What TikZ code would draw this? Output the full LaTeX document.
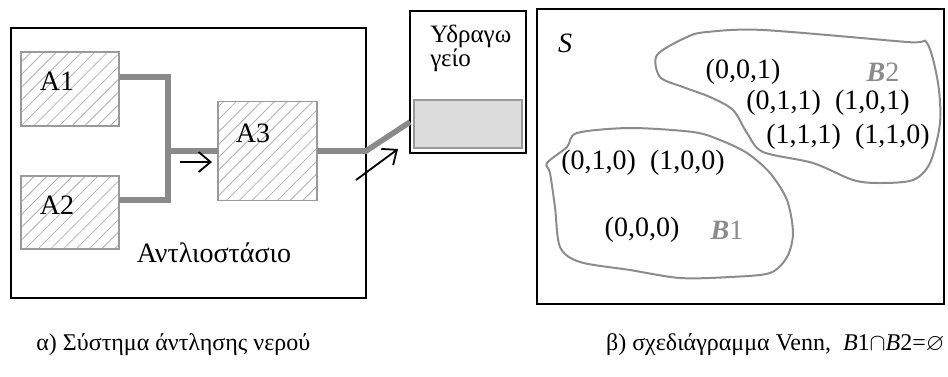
\documentclass[tikz,border=0pt]{standalone}
\usepackage{amssymb}
\usepackage{fontspec}
\setmainfont{Liberation Serif}
\usetikzlibrary{patterns.meta,arrows.meta}
\definecolor{PipeGray}{HTML}{8A8A8A}
\definecolor{HatchGray}{HTML}{B0B0B0}
\definecolor{EdgeGray}{HTML}{9A9A9A}
\definecolor{TankFill}{HTML}{DCDCDC}
\definecolor{SetGray}{HTML}{8C8C8C}

\begin{document}
\begin{tikzpicture}[
	x=0.5pt, y=-0.5pt,
	font=\fontsize{14}{16}\selectfont,
	% hatched tank / pump box
	pump box/.style={
		draw=EdgeGray,
		line width=0.7pt,
		pattern={Lines[angle=45,distance=4.5pt,line width=0.4pt]},
		pattern color=HatchGray,
		minimum width=49pt,
		inner sep=0pt, outer sep=0pt
	},
	% plain black frame
	frame/.style={
		draw=black,
		line width=0.9pt,
		inner sep=0pt, outer sep=0pt
	},
	% thick grey water pipe
	pipe/.style={
		draw=PipeGray,
		line width=2.8pt
	},
	% thin flow arrow
	flow/.style={
		draw=black,
		line width=0.9pt,
		-{Straight Barb[length=6pt,width=10pt]}
	},
	% set outline
	set line/.style={
		draw=SetGray,
		line width=1pt
	},
	lbl/.style={inner sep=0pt},
	caption/.style={inner sep=0pt, font=\fontsize{12}{14}\selectfont},
	set name/.style={inner sep=0pt, text=SetGray}
	]
	\useasboundingbox (0,0) rectangle (948,376);
	
	% ================= PUMP STATION =================
	\node[frame, minimum width=177.5pt, minimum height=135pt] (station) at (188.5,163) {};
	
	\coordinate (j1) at (168,77);
	\coordinate (j2) at (168,200);
	\coordinate (inlet) at (410,122);
	
	\node[pump box, minimum height=37pt] (a1) at (70,89) {};
	\node[pump box, minimum height=36.5pt] (a2) at (70,212.5) {};
	\node[pump box, minimum height=49.5pt, minimum width=49.5pt] (a3) at (267.5,151) {};
	
	\node[lbl] (a1 txt) at (57,81) {A1};
	\node[lbl] (a2 txt) at (57,205) {A2};
	\node[lbl] (a3 txt) at (253,133) {A3};
	\node[lbl] (station txt) at (214,253) {Αντλιοστάσιο};
	
	% ================= TANK =================
	\node[frame, line width=1.1pt, minimum width=58pt, minimum height=71pt] (tank) at (468,82) {};
	\node[draw=EdgeGray, fill=TankFill, line width=0.7pt, minimum width=54pt, minimum height=24pt,
		inner sep=0pt] (water) at (468,124) {};
	\node[lbl, anchor=west, align=left, font=\fontsize{12.5}{12}\selectfont] (tank txt) at (430,48) {Υδραγω\\γείο};
	
	% ================= PIPES =================
	\draw[pipe] (a1.east |- j1) -- (j1) -- (j2) -- (a2.east |- j2);
	\draw[pipe] (j1 |- a3) -- (a3.west);
	\draw[pipe] (a3.east) -- (station.east |- a3) -- (inlet);
	
	% ================= ARROWS =================
	\coordinate (f1) at (180,162);
	\coordinate (f2) at (212,162);
	\coordinate (f3) at (356,180);
	\coordinate (f4) at (398,149);
	\draw[flow] (f1) -- (f2);
	\draw[flow] (f3) -- (f4);
	
	% ================= VENN DIAGRAM =================
	\node[frame, minimum width=203.5pt, minimum height=147.5pt] (venn) at (740.5,156.5) {};
	\node[lbl] (s) at (565,43) {\textit{S}};
	
	\draw[set line] plot[smooth cycle, tension=0.5] coordinates {
		(657,55) (687,37) (707,32) (763,30) (907,42) (927,43)
		(938,83) (940,123) (930,163) (913,180) (880,183) (853,180)
		(813,163) (763,152) (747,133) (733,110) (710,97) (683,87) (660,77)};
	\draw[set line] plot[smooth cycle, tension=0.5] coordinates {
		(547,163) (567,147) (577,133) (630,128) (693,132) (720,140)
		(747,153) (770,173) (787,200) (793,233) (787,257) (770,273)
		(730,277) (680,278) (630,270) (580,262) (560,247) (555,207) (550,173)};
	
	\node[lbl] (v001) at (743,72) {(0,0,1)};
	\node[set name] (b2) at (883,72) {\textbf{\textit{B}}2};
	\node[lbl] (v011) at (828,103) {(0,1,1)\enspace(1,0,1)};
	\node[lbl] (v111) at (848,137) {(1,1,1)\enspace(1,1,0)};
	\node[lbl] (v010) at (643,163) {(0,1,0)\enspace(1,0,0)};
	\node[lbl] (v000) at (642,230) {(0,0,0)};
	\node[set name] (b1) at (727,230) {\textbf{\textit{B}}1};
	
	% ================= CAPTIONS =================
	\node[caption, anchor=west] (cap a) at (36,345) {α) Σύστημα άντλησης νερού};
	\node[caption, anchor=east] (cap b) at (945,345) {β) σχεδιάγραμμα Venn,\enspace\textit{B}1$\cap$\textit{B}2=$\varnothing$};
	
\end{tikzpicture}
\end{document}
